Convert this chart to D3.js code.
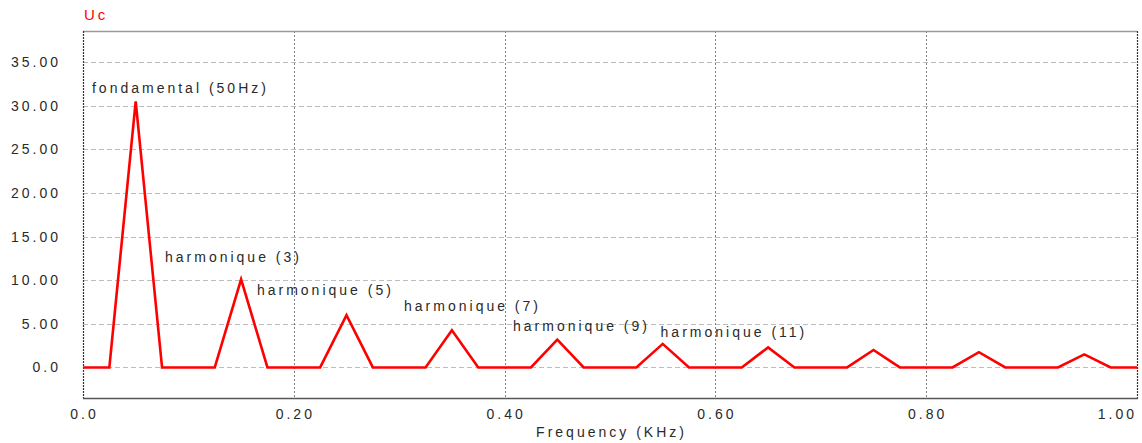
<!DOCTYPE html>
<html><head><meta charset="utf-8">
<script src="https://cdn.jsdelivr.net/npm/d3@7"></script>
<style>
html,body{margin:0;padding:0;background:#fff;}
svg{display:block;}
text{font-family:"Liberation Sans",Arial,sans-serif;font-size:14px;letter-spacing:3px;fill:#2a2a2a;}
</style></head><body>
<svg id="c" width="1142" height="443"></svg>
<script>
// ---- data ----
const freqs = [0, 0.025, 0.05, 0.075, 0.1, 0.125, 0.15, 0.175, 0.2, 0.225, 0.25, 0.275, 0.3, 0.325, 0.35, 0.375, 0.4, 0.425, 0.45, 0.475, 0.5, 0.525, 0.55, 0.575, 0.6, 0.625, 0.65, 0.675, 0.7, 0.725, 0.75, 0.775, 0.8, 0.825, 0.85, 0.875, 0.9, 0.925, 0.95, 0.975, 1.0];
const amps  = [0, 0, 30.5, 0, 0, 0, 10.1, 0, 0, 0, 6.0, 0, 0, 0, 4.25, 0, 0, 0, 3.2, 0, 0, 0, 2.7, 0, 0, 0, 2.3, 0, 0, 0, 2.0, 0, 0, 0, 1.75, 0, 0, 0, 1.5, 0, 0];
const yTicks = [0, 5, 10, 15, 20, 25, 30, 35];
const yTickLabels = ["0.0", "5.00", "10.00", "15.00", "20.00", "25.00", "30.00", "35.00"];
const xTicks = [0, 0.2, 0.4, 0.6, 0.8, 1.0];
const xTickLabels = ["0.0", "0.20", "0.40", "0.60", "0.80", "1.00"];
const annoText = ["fondamental (50Hz)", "harmonique (3)", "harmonique (5)", "harmonique (7)", "harmonique (9)", "harmonique (11)"];
const annoFreq = [0.0085, 0.0778, 0.165, 0.3046, 0.408, 0.548];
const annoAmp  = [31.45, 12.09, 8.31, 6.51, 4.22, 3.49];
const seriesName = "Uc";
const xTitle = "Frequency (KHz)";

// ---- layout ----
const L = 83, R = 1137, T = 31, B = 398;
const LS = 3;
const svg = d3.select("#c");
const x = d3.scaleLinear().domain([0, 1]).range([L, R]);
const y = d3.scaleLinear().domain([-3.5, 38.55]).range([B, T]);

// horizontal grid
svg.append("g").selectAll("line").data(yTicks).join("line")
  .attr("x1", L).attr("x2", R)
  .attr("y1", d => Math.round(y(d)) + 0.5).attr("y2", d => Math.round(y(d)) + 0.5)
  .attr("stroke", "#bdbdbd").attr("stroke-width", 1.2).attr("stroke-dasharray", "5,3");
// vertical grid
svg.append("g").selectAll("line").data(xTicks.slice(1, -1)).join("line")
  .attr("y1", T).attr("y2", B)
  .attr("x1", d => Math.round(x(d)) + 0.5).attr("x2", d => Math.round(x(d)) + 0.5)
  .attr("stroke", "#808080").attr("stroke-width", 1).attr("stroke-dasharray", "2,2");

// frame
svg.append("line").attr("x1", L).attr("x2", R).attr("y1", T + 0.5).attr("y2", T + 0.5)
  .attr("stroke", "#9a9a9a").attr("stroke-width", 1.5);
svg.append("line").attr("x1", L).attr("x2", R + 1).attr("y1", B + 0.5).attr("y2", B + 0.5)
  .attr("stroke", "#555").attr("stroke-width", 1.5);
svg.append("line").attr("x1", L + 0.5).attr("x2", L + 0.5).attr("y1", T).attr("y2", B)
  .attr("stroke", "#333").attr("stroke-width", 1.2).attr("stroke-dasharray", "2,1");
svg.append("line").attr("x1", R + 0.5).attr("x2", R + 0.5).attr("y1", T).attr("y2", B)
  .attr("stroke", "#333").attr("stroke-width", 1.2).attr("stroke-dasharray", "2,1");

// y tick labels
svg.append("g").selectAll("text").data(yTicks).join("text")
  .attr("x", 58 + LS).attr("y", d => y(d) + 5)
  .attr("text-anchor", "end").text((d, i) => yTickLabels[i]);
// x tick labels (last one right-aligned to the frame edge)
const lastX = xTicks.length - 1;
svg.append("g").selectAll("text").data(xTicks).join("text")
  .attr("x", (d, i) => i === lastX ? x(d) - 3 + LS : x(d) + LS / 2).attr("y", 419)
  .attr("text-anchor", (d, i) => i === lastX ? "end" : "middle")
  .text((d, i) => xTickLabels[i]);

// titles
svg.append("text").attr("x", 84).attr("y", 20).style("fill", "#ff0000").style("font-size", "15px").text(seriesName);
svg.append("text").attr("x", 610 + LS / 2).attr("y", 437).attr("text-anchor", "middle").text(xTitle);

// line
const line = d3.line().x((d, i) => x(freqs[i])).y(d => y(d));
svg.append("path").datum(amps).attr("d", line)
  .attr("fill", "none").attr("stroke", "#ff0000").attr("stroke-width", 2.6)
  .attr("stroke-linejoin", "miter");

// annotations
svg.append("g").selectAll("text").data(annoText).join("text")
  .attr("x", (d, i) => x(annoFreq[i])).attr("y", (d, i) => y(annoAmp[i]))
  .text(d => d);
</script>
</body></html>
